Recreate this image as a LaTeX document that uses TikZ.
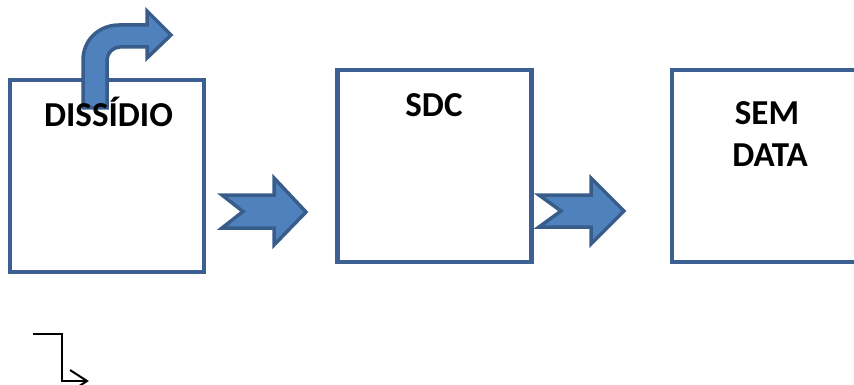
\documentclass[tikz,border=0pt]{standalone}
\usepackage{fontspec}
\setmainfont{Carlito}
\usetikzlibrary{arrows.meta}
\begin{document}
\begin{tikzpicture}[x=1pt,y=-1pt,
  box/.style={draw=boxblue,line width=4.5pt,fill=white,minimum width=194pt,minimum height=192pt,inner sep=0pt},
  lbl/.style={font=\bfseries\fontsize{35}{42}\selectfont,align=center,anchor=base,inner sep=0pt},
  blockarrow/.style={fill=arrowfill,draw=arrowdraw,line width=3.5pt,line join=miter},
  elbow/.style={line width=2pt,line join=miter}]
\definecolor{boxblue}{RGB}{60,96,146}
\definecolor{arrowfill}{RGB}{79,129,189}
\definecolor{arrowdraw}{RGB}{56,93,138}
\useasboundingbox (0,0) rectangle (854,385);
% boxes
\node[box] (b1) at (107,176) {};
\node[box] (b2) at (434.5,166) {};
\node[box] (b3) at (769,166) {};
% bent arrow
\draw[blockarrow] (83,108) -- (83,60) .. controls (83,40) and (99,25) .. (119,25) -- (147,25) -- (147,11) -- (171,35) -- (147,58) -- (147,47) -- (120,47) .. controls (113,47) and (107,53) .. (107,60) -- (107,108) -- cycle;
% labels
\node[lbl] (t1) at (108.5,127) {DISSÍDIO};
\node[lbl] (t2) at (434,117) {SDC};
\node[lbl] (t3) at (767,125) {SEM};
\node[lbl] (t4) at (770,167) {DATA};
% block arrows between boxes
\draw[blockarrow] (222,195) -- (274,195) -- (274,178) -- (306,212) -- (274,245) -- (274,228) -- (222,228) -- (243,211.5) -- cycle;
\draw[blockarrow] (539,195) -- (591,195) -- (591,178) -- (624,211) -- (591,244) -- (591,227) -- (539,227) -- (561,211) -- cycle;
% elbow connector
\coordinate (e0) at (33,334);
\coordinate (e1) at (87,381);
\draw[elbow] (e0) -- (62,334) -- (62,381) -- (e1);
\draw[elbow] ([shift={(-17,-11)}]e1) -- (e1) -- ([shift={(-17,11)}]e1);
\end{tikzpicture}
\end{document}
